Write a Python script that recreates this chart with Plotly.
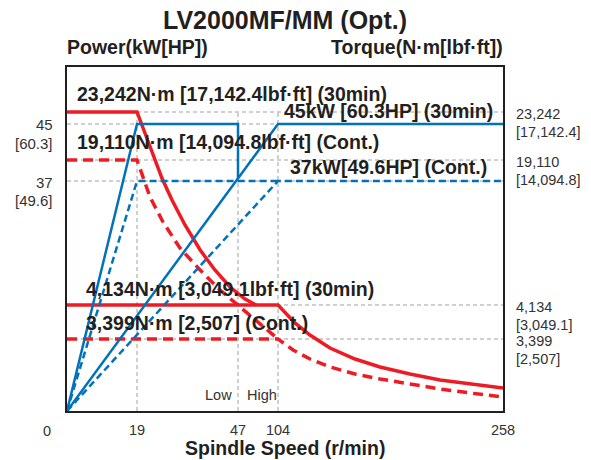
import numpy as np
import plotly.graph_objects as go

# ---------------- data ----------------
speed_ticks = [0, 19, 47, 104, 258]                    # r/min
speed_tick_text = ["0", "19", "47", "104", "258"]

power_ticks = [45, 37]                                  # kW
power_tick_text = ["45", "37"]
power_tick_sub = ["[60.3]", "[49.6]"]                   # HP

torque_ticks = [23242, 19110, 4134, 3399]               # N·m
torque_tick_text = ["23,242", "19,110", "4,134", "3,399"]
torque_tick_sub = ["[17,142.4]", "[14,094.8]", "[3,049.1]", "[2,507]"]

# Power output (kW)
low30_speed = [0, 19, 47, 47]
low30_power = [0, 45, 45, 37.4]
lowcont_speed = [0, 19, 104]
lowcont_power = [0, 37, 37]
high30_speed = [0, 104, 258]
high30_power = [0, 45, 45]
highcont_speed = [0, 104, 258]
highcont_power = [0, 37, 37]

# Torque (N·m)
t30low_speed = [0, 19, 21.2, 23.4, 25.9, 28.7, 32.3, 36.5, 40.6, 44.8, 57.0, 72.7]
t30low_torque = [23242, 23242, 21434, 19540, 17251, 14979, 12397, 9815, 7749, 5993, 4754, 4134]
t30high_speed = [0, 104, 115.6, 125.9, 139.6, 156.7, 173.8, 194.3, 214.9, 235.4, 258]
t30high_torque = [4134, 4134, 3745, 3485, 2974, 2455, 2077, 1747, 1464, 1275, 1086]
tcontlow_speed = [0, 19, 22.6, 26.2, 30.9, 36.5, 42.0, 47.0, 71.2, 89.8, 104]
tcontlow_torque = [19110, 19110, 15289, 12707, 10021, 7749, 5683, 4134, 3810, 3572, 3399]
tconthigh_speed = [0, 104, 114.3, 125.9, 139.6, 156.7, 173.8, 194.3, 214.9, 235.4, 258]
tconthigh_torque = [3399, 3399, 2880, 2455, 2077, 1747, 1511, 1275, 1039, 850, 661]

# ---------------- schematic (piecewise) scales ----------------
W, H = 591, 460
L, R, T, B = 67, 88, 67, 49
PW, PH = W - L - R, H - T - B

SPEED_BREAKS = [0, 19, 47, 104, 258]
SPEED_POS = [0, 70, 171, 211, 436]
POWER_BREAKS = [0, 37, 45]
POWER_POS = [0, 230, 287]
TORQUE_BREAKS = [0, 3399, 4134, 19110, 23242]
TORQUE_POS = [0, 72, 106, 251, 299]


def sx(v):
    return np.interp(v, SPEED_BREAKS, SPEED_POS)


def sp(v):
    return np.interp(v, POWER_BREAKS, POWER_POS)


def st(v):
    return np.interp(v, TORQUE_BREAKS, TORQUE_POS)


def px_x(x):
    return (x - L) / PW


def px_y(y):
    return (H - B - y) / PH


RED = "#ED1C24"
BLUE = "#0072BC"
TXT = "#231F20"
TICK = "#333333"
GRID = "#A0A0A0"
FONT = "Liberation Sans, Arial, sans-serif"

fig = go.Figure()

# gridlines
shapes = []
for p in power_ticks:
    shapes.append(dict(type="line", xref="x", yref="y", x0=0, x1=PW, y0=sp(p), y1=sp(p),
                       line=dict(color=GRID, width=1, dash="4px,3px"), layer="below"))
for t in torque_ticks:
    shapes.append(dict(type="line", xref="x", yref="y", x0=0, x1=PW, y0=st(t), y1=st(t),
                       line=dict(color=GRID, width=1, dash="4px,3px"), layer="below"))
for s in speed_ticks[1:4]:
    shapes.append(dict(type="line", xref="x", yref="y", x0=sx(s), x1=sx(s), y0=0, y1=st(23242),
                       line=dict(color=GRID, width=1, dash="4px,3px"), layer="below"))


def add(xs, ys, color, width, dash):
    fig.add_trace(go.Scatter(x=xs, y=ys, mode="lines", hoverinfo="skip", showlegend=False,
                             line=dict(color=color, width=width, dash=dash)))


# torque curves
add(sx(t30low_speed), st(t30low_torque), RED, 3.5, "solid")
add(sx(t30high_speed), st(t30high_torque), RED, 3.5, "solid")
add(sx(tcontlow_speed), st(tcontlow_torque), RED, 3.5, "10px,6px")
add(sx(tconthigh_speed), st(tconthigh_torque), RED, 3.5, "10px,6px")
# power curves
add(sx(low30_speed), sp(low30_power), BLUE, 2.5, "solid")
add(sx(high30_speed), sp(high30_power), BLUE, 2.5, "solid")
add(sx(lowcont_speed), sp(lowcont_power), BLUE, 2.5, "7px,4px")
add(sx(highcont_speed), sp(highcont_power), BLUE, 2.5, "7px,4px")

ann = []


def text(x, y, s, size, color=TXT, bold=False, xanchor="left", yanchor="middle"):
    ann.append(dict(x=x, y=y, xref="paper", yref="paper", text=("<b>%s</b>" % s) if bold else s,
                    showarrow=False, xanchor=xanchor, yanchor=yanchor, borderpad=0,
                    font=dict(size=size, color=color, family=FONT)))


# titles
text(0.5, px_y(20), "LV2000MF/MM (Opt.)", 25, bold=True, xanchor="center")
text(px_x(66), px_y(47), "Power(kW[HP])", 19.5, bold=True, xanchor="left")
text(px_x(504), px_y(47), "Torque(N·m[lbf·ft])", 19.5, bold=True, xanchor="right")
text(0.5, px_y(460), "Spindle Speed (r/min)", 19.5, bold=True, xanchor="center", yanchor="bottom")
text(px_x(47), px_y(431), speed_tick_text[0], 14.5, color=TICK, xanchor="center")

# left power labels
for p, a, b in zip(power_ticks, power_tick_text, power_tick_sub):
    yy = H - B - sp(p)
    text(px_x(54), px_y(yy + 1), a, 15, color=TICK, xanchor="right")
    text(px_x(54), px_y(yy + 19), b, 15, color=TICK, xanchor="right")
# right torque labels
for t, a, b in zip(torque_ticks, torque_tick_text, torque_tick_sub):
    yy = H - B - st(t)
    text(px_x(515), px_y(yy + 2), a, 14.5, color=TICK, xanchor="left")
    text(px_x(515), px_y(yy + 20), b, 14.5, color=TICK, xanchor="left")

# in-plot labels
text(px_x(76), px_y(94), "23,242N·m [17,142.4lbf·ft] (30min)", 19.5, bold=True)
text(px_x(283), px_y(111), "45kW [60.3HP] (30min)", 19.5, bold=True)
text(px_x(76), px_y(142), "19,110N·m [14,094.8lbf·ft] (Cont.)", 19.5, bold=True)
text(px_x(289), px_y(167), "37kW[49.6HP] (Cont.)", 19.5, bold=True)
text(px_x(85), px_y(289), "4,134N·m [3,049.1lbf·ft] (30min)", 19.5, bold=True)
text(px_x(85), px_y(323), "3,399N·m [2,507] (Cont.)", 19.5, bold=True)
text(px_x(233), px_y(395), "Low", 14.5, color=TICK, xanchor="right")
text(px_x(246), px_y(395), "High", 14.5, color=TICK, xanchor="left")

fig.update_layout(
    width=W, height=H,
    margin=dict(l=L, r=R, t=T, b=B),
    paper_bgcolor="white", plot_bgcolor="white",
    shapes=shapes, annotations=ann,
    font=dict(family=FONT),
    xaxis=dict(range=[0, PW], showgrid=False, zeroline=False, showline=True, mirror=True,
               linecolor=TXT, linewidth=1.5, ticks="",
               tickvals=list(sx(speed_ticks[1:])), ticktext=speed_tick_text[1:],
               tickfont=dict(size=14.5, color=TICK, family=FONT), ticklabelstandoff=5),
    yaxis=dict(range=[0, PH], showgrid=False, zeroline=False, showline=True, mirror=True,
               linecolor=TXT, linewidth=1.5, showticklabels=False, ticks=""),
)

fig.write_html("out.html")
